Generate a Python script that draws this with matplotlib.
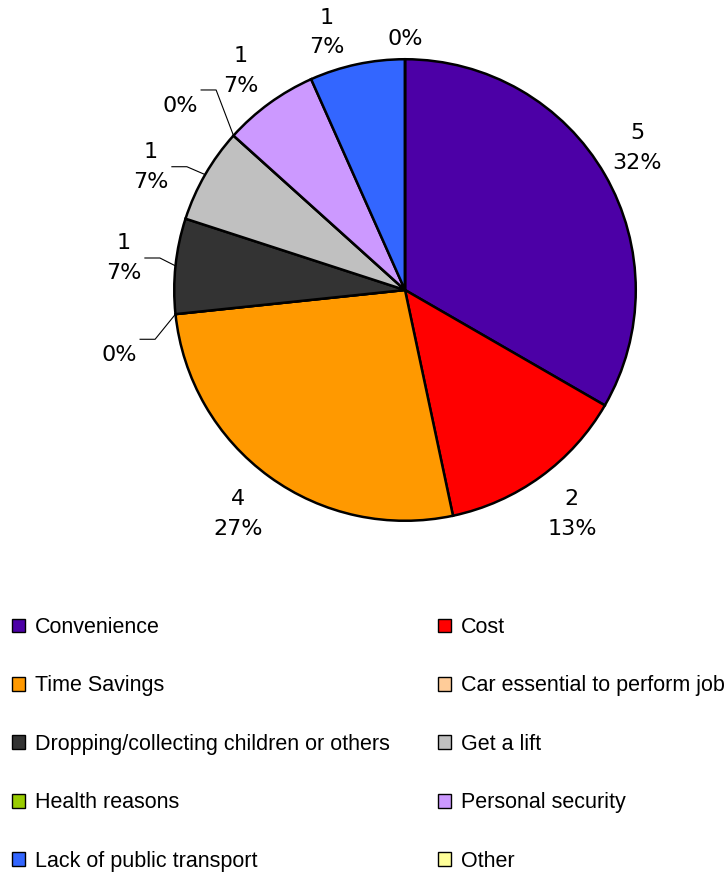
import numpy as np
import matplotlib
matplotlib.use("Agg")
from matplotlib import pyplot as plt
from matplotlib.patches import Patch

categories = ["Convenience", "Cost", "Time Savings", "Car essential to perform job",
              "Dropping/collecting children or others", "Get a lift", "Health reasons",
              "Personal security", "Lack of public transport", "Other"]
counts = [5, 2, 4, 0, 1, 1, 0, 1, 1, 0]
percents = ["32%", "13%", "27%", "0%", "7%", "7%", "0%", "7%", "7%", "0%"]
colors = ["#4C00A6", "#FF0000", "#FF9900", "#FFCC99", "#333333",
          "#C0C0C0", "#99CC00", "#CC99FF", "#3366FF", "#FFFF99"]

# label placement (radius in pie radii, angle nudge in degrees, clockwise) and leader lines
label_r = [1.18, 1.21, 1.21, 1.27, 1.225, 1.223, 1.258, 1.186, 1.167, 1.087]
label_nudge = [-1.4, -0.7, 0.7, -6.9, 0.5, -4.1, -2.7, -0.9, -4.9, 0]
leader = [False, False, False, True, True, True, True, False, False, False]

fig = plt.figure(figsize=(7.27, 8.74), dpi=100)
W, H = 727, 874
cx, cy, half = 405, 290, 300
ax = fig.add_axes([(cx - half) / W, (H - cy - half) / H, 2 * half / W, 2 * half / H])

wedges, _ = ax.pie(counts, colors=colors, startangle=90, counterclock=False,
                   wedgeprops=dict(edgecolor="black", linewidth=1.8))
ax.set_xlim(-1.3, 1.3)
ax.set_ylim(-1.3, 1.3)
ax.set_aspect("equal")
ax.axis("off")

for i, w in enumerate(wedges):
    mid = np.deg2rad((w.theta1 + w.theta2) / 2)
    edge_ang = np.deg2rad(w.theta1 if counts[i] == 0 else (w.theta1 + w.theta2) / 2)
    ang = mid - np.deg2rad(label_nudge[i])
    lx, ly = label_r[i] * np.cos(ang), label_r[i] * np.sin(ang)
    txt = f"{counts[i]}\n{percents[i]}" if counts[i] else percents[i]
    ax.text(lx, ly, txt, ha="center", va="center", fontsize=16, linespacing=1.6,
            family="DejaVu Sans", color="black", clip_on=False)
    if leader[i]:
        by = ly + (0.07 if counts[i] == 0 else 0.0)
        xs = [np.cos(edge_ang), lx + 0.155, lx + 0.09]
        ys = [np.sin(edge_ang), by, by]
        ax.plot(xs, ys, color="black", lw=0.8, clip_on=False)

handles = [Patch(facecolor=c, edgecolor="black", linewidth=1.0) for c in colors]
for col, x0 in [(0, 12), (1, 438)]:
    idx = list(range(col, len(categories), 2))
    fig.legend([handles[k] for k in idx], [categories[k] for k in idx],
               loc="upper left", bbox_to_anchor=(x0 / W, 1 - 617 / H),
               frameon=False, prop=dict(family="Liberation Sans", size=15.5),
               handlelength=0.6, handleheight=0.6, handletextpad=0.45,
               labelspacing=1.74, borderpad=0, borderaxespad=0)

fig.savefig("out.png", dpi=100, facecolor="white")
